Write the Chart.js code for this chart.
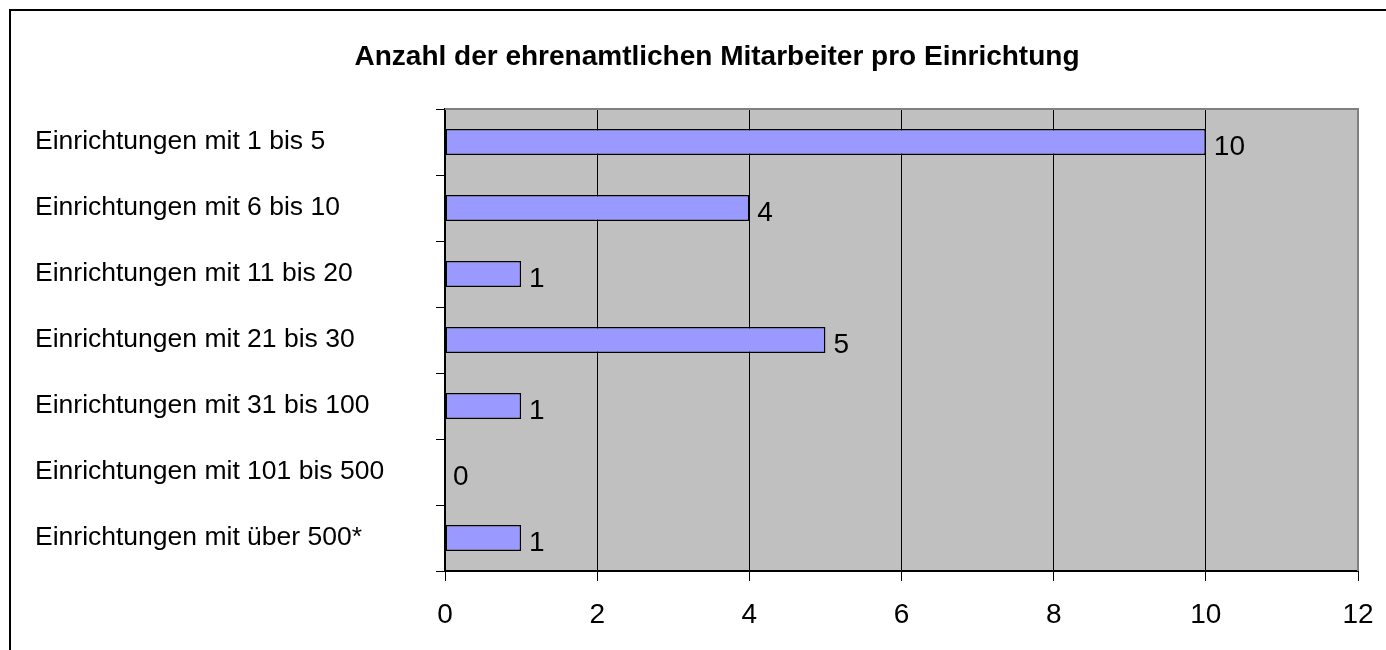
<!DOCTYPE html>
<html>
<head>
<meta charset="utf-8">
<script src="https://cdn.jsdelivr.net/npm/chart.js@4/dist/chart.umd.min.js"></script>
<style>
  html, body { margin: 0; padding: 0; background: #fff; }
  #wrap { width: 1386px; height: 650px; position: relative; }
</style>
</head>
<body>
<div id="wrap"><canvas id="c" width="1386" height="650"></canvas></div>
<script>
const categories = [
  "Einrichtungen mit 1 bis 5",
  "Einrichtungen mit 6 bis 10",
  "Einrichtungen mit 11 bis 20",
  "Einrichtungen mit 21 bis 30",
  "Einrichtungen mit 31 bis 100",
  "Einrichtungen mit 101 bis 500",
  "Einrichtungen mit über 500*"
];
const values = [10, 4, 1, 5, 1, 0, 1];
const xMin = 0;
const xMax = 12;
const xStep = 2;
const titleText = "Anzahl der ehrenamtlichen Mitarbeiter pro Einrichtung";

const FONT = "'Liberation Sans', Arial, Helvetica, sans-serif";

const plotDecor = {
  id: 'plotDecor',
  beforeDraw(chart) {
    const { ctx, chartArea: a } = chart;
    ctx.save();
    ctx.fillStyle = '#C0C0C0';
    ctx.fillRect(a.left, a.top, a.right - a.left, a.bottom - a.top);
    ctx.restore();
  },
  beforeDatasetsDraw(chart) {
    const { ctx, chartArea: a } = chart;
    ctx.save();
    ctx.strokeStyle = '#808080';
    ctx.lineWidth = 2;
    ctx.beginPath();
    ctx.moveTo(a.left, a.top);
    ctx.lineTo(a.right, a.top);
    ctx.lineTo(a.right, a.bottom);
    ctx.stroke();
    ctx.restore();
  },
  afterDatasetsDraw(chart) {
    const { ctx } = chart;
    const meta = chart.getDatasetMeta(0);
    ctx.save();
    ctx.fillStyle = '#000';
    ctx.font = '28px ' + FONT;
    ctx.textAlign = 'left';
    ctx.textBaseline = 'middle';
    meta.data.forEach((bar, i) => {
      ctx.fillText(String(values[i]), bar.x + 8, bar.y + 5);
    });
    ctx.restore();
  },
  afterDraw(chart) {
    const { ctx, width, height } = chart;
    ctx.save();
    ctx.strokeStyle = '#000';
    ctx.lineWidth = 2;
    ctx.beginPath();
    ctx.moveTo(10, height);
    ctx.lineTo(10, 10);
    ctx.lineTo(width, 10);
    ctx.stroke();
    ctx.restore();
  }
};

new Chart(document.getElementById('c'), {
  type: 'bar',
  data: {
    labels: categories,
    datasets: [{
      data: values,
      backgroundColor: '#9999FF',
      borderColor: '#000000',
      borderWidth: 1.5,
      borderSkipped: false,
      categoryPercentage: 1,
      barPercentage: 0.394
    }]
  },
  options: {
    indexAxis: 'y',
    responsive: false,
    animation: false,
    layout: { padding: { left: 35, right: -13, top: 10, bottom: 0 } },
    plugins: {
      legend: { display: false },
      tooltip: { enabled: false },
      title: {
        display: true,
        text: titleText,
        color: '#000',
        font: { family: FONT, size: 28, weight: 'bold' },
        padding: { top: 30, bottom: 35.4 }
      }
    },
    scales: {
      x: {
        type: 'linear',
        position: 'bottom',
        min: xMin,
        max: xMax,
        ticks: {
          stepSize: xStep,
          color: '#000',
          font: { family: FONT, size: 28 },
          padding: 17,
          maxRotation: 0
        },
        grid: {
          color: '#000',
          lineWidth: 1,
          tickLength: 10,
          tickColor: '#000',
          drawOnChartArea: true
        },
        border: { display: true, color: '#000', width: 2 },
        afterFit(scale) { scale.paddingRight = 28; scale.height = 79; }
      },
      y: {
        type: 'category',
        position: 'left',
        offset: true,
        ticks: {
          color: '#000',
          font: { family: FONT, size: 26.5 },
          crossAlign: 'far',
          padding: 12
        },
        grid: {
          offset: true,
          drawOnChartArea: false,
          tickLength: 9,
          color: '#000',
          tickColor: '#000'
        },
        border: { display: true, color: '#000', width: 2 },
        afterFit(scale) { scale.width = 410; }
      }
    }
  },
  plugins: [plotDecor]
});
</script>
</body>
</html>
